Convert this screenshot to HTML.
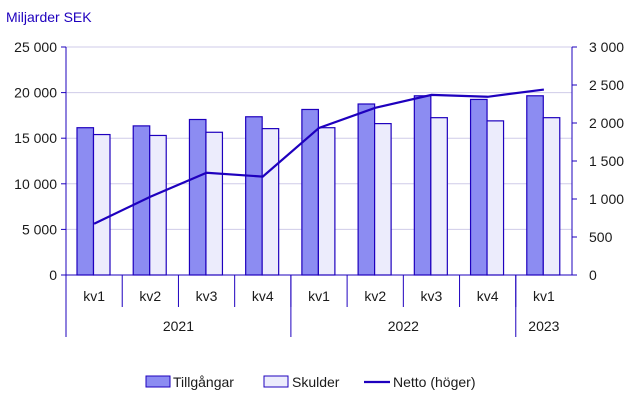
<!DOCTYPE html>
<html><head><meta charset="utf-8"><style>
body{margin:0;background:#fff;font-family:"Liberation Sans",sans-serif}
svg text{font-family:"Liberation Sans",sans-serif;fill:#1a1a1a;font-size:14px}
</style></head><body>
<svg width="629" height="405" id="c"></svg>
<script>
const quarters=["kv1","kv2","kv3","kv4","kv1","kv2","kv3","kv4","kv1"];
const years=["2021","2022","2023"];
const yearSpan=[4,4,1];
const tillgangar=[16150,16350,17050,17350,18150,18750,19650,19250,19650];
const skulder=[15400,15300,15650,16050,16150,16600,17250,16900,17250];
const netto=[675,1030,1345,1295,1935,2200,2370,2345,2440];
const leftTicks=[0,5000,10000,15000,20000,25000];
const rightTicks=[0,500,1000,1500,2000,2500,3000];
const X0=66,X1=572,Y0=275,Y1=47;
const gw=(X1-X0)/quarters.length;
const yL=v=>Y0-(v/25000)*(Y0-Y1);
const yR=v=>Y0-(v/3000)*(Y0-Y1);
const fmt=v=>v>=1000?String(Math.floor(v/1000))+" "+String(v%1000).padStart(3,"0"):String(v);
const svg=document.getElementById('c');const NS="http://www.w3.org/2000/svg";
function mk(t,a,txt){const e=document.createElementNS(NS,t);for(const k in a)e.setAttribute(k,a[k]);if(txt!==undefined)e.textContent=txt;svg.appendChild(e);return e;}
let e=mk('text',{x:6,y:22,style:'fill:#1e00be;font-size:14px'},'Miljarder SEK');


leftTicks.forEach(v=>{
 if(v>0){e=mk('line',{x1:X0,x2:X1,y1:yL(v),y2:yL(v),stroke:'#cfcbe8','stroke-width':1});
 
 }
 e=mk('line',{x1:X0-5,x2:X0,y1:yL(v),y2:yL(v),stroke:'#1e00be'});
 
 
 e=mk('text',{x:X0-9,y:yL(v)+5,'text-anchor':'end'},fmt(v));
 
 
});
rightTicks.forEach(v=>{
 e=mk('line',{x1:X1,x2:X1+5,y1:yR(v),y2:yR(v),stroke:'#1e00be'});
 
 
 e=mk('text',{x:X1+17,y:yR(v)+5},fmt(v));
 
 
});
quarters.forEach((q,i)=>{
 const gx=X0+i*gw;
 e=mk('rect',{x:gx+11,y:yL(tillgangar[i]),width:16.5,height:Y0-yL(tillgangar[i]),fill:'#8c8cf2',stroke:'#1e00be','stroke-width':1.2});
 
 
 e=mk('rect',{x:gx+27.5,y:yL(skulder[i]),width:16.5,height:Y0-yL(skulder[i]),fill:'#ececfc',stroke:'#1e00be','stroke-width':1.2});
 
 
 e=mk('text',{x:gx+gw/2,y:301,'text-anchor':'middle'},q);
 
 
 if(i>0){e=mk('line',{x1:gx,x2:gx,y1:Y0,y2:307,stroke:'#1e00be'});
 
 }
});
let idx=0;
years.forEach((y,j)=>{
 const xa=X0+idx*gw,xb=X0+(idx+yearSpan[j])*gw;
 e=mk('text',{x:(xa+xb)/2,y:331,'text-anchor':'middle'},y);
 
 
 if(idx>0){e=mk('line',{x1:xa,x2:xa,y1:Y0,y2:337,stroke:'#1e00be'});
 
 }
 idx+=yearSpan[j];
});
e=mk('line',{x1:X0,x2:X0,y1:Y1,y2:337,stroke:'#1e00be'});


e=mk('line',{x1:X1,x2:X1,y1:Y1,y2:Y0,stroke:'#1e00be'});


e=mk('line',{x1:X0,x2:X1,y1:Y0,y2:Y0,stroke:'#1e00be'});


const pts=netto.map((v,i)=>(X0+i*gw+gw/2)+","+yR(v)).join(" ");
e=mk('polyline',{points:pts,fill:'none',stroke:'#1e00be','stroke-width':2.2});


// legend
e=mk('rect',{x:146,y:376,width:24,height:11,fill:'#8c8cf2',stroke:'#1e00be'});


e=mk('text',{x:173,y:387},'Tillgångar');


e=mk('rect',{x:264,y:376,width:24,height:11,fill:'#ececfc',stroke:'#1e00be'});


e=mk('text',{x:292,y:387},'Skulder');


e=mk('line',{x1:364,x2:390,y1:382,y2:382,stroke:'#1e00be','stroke-width':2.2});


e=mk('text',{x:393,y:387},'Netto (höger)');


</script>
</body></html>
